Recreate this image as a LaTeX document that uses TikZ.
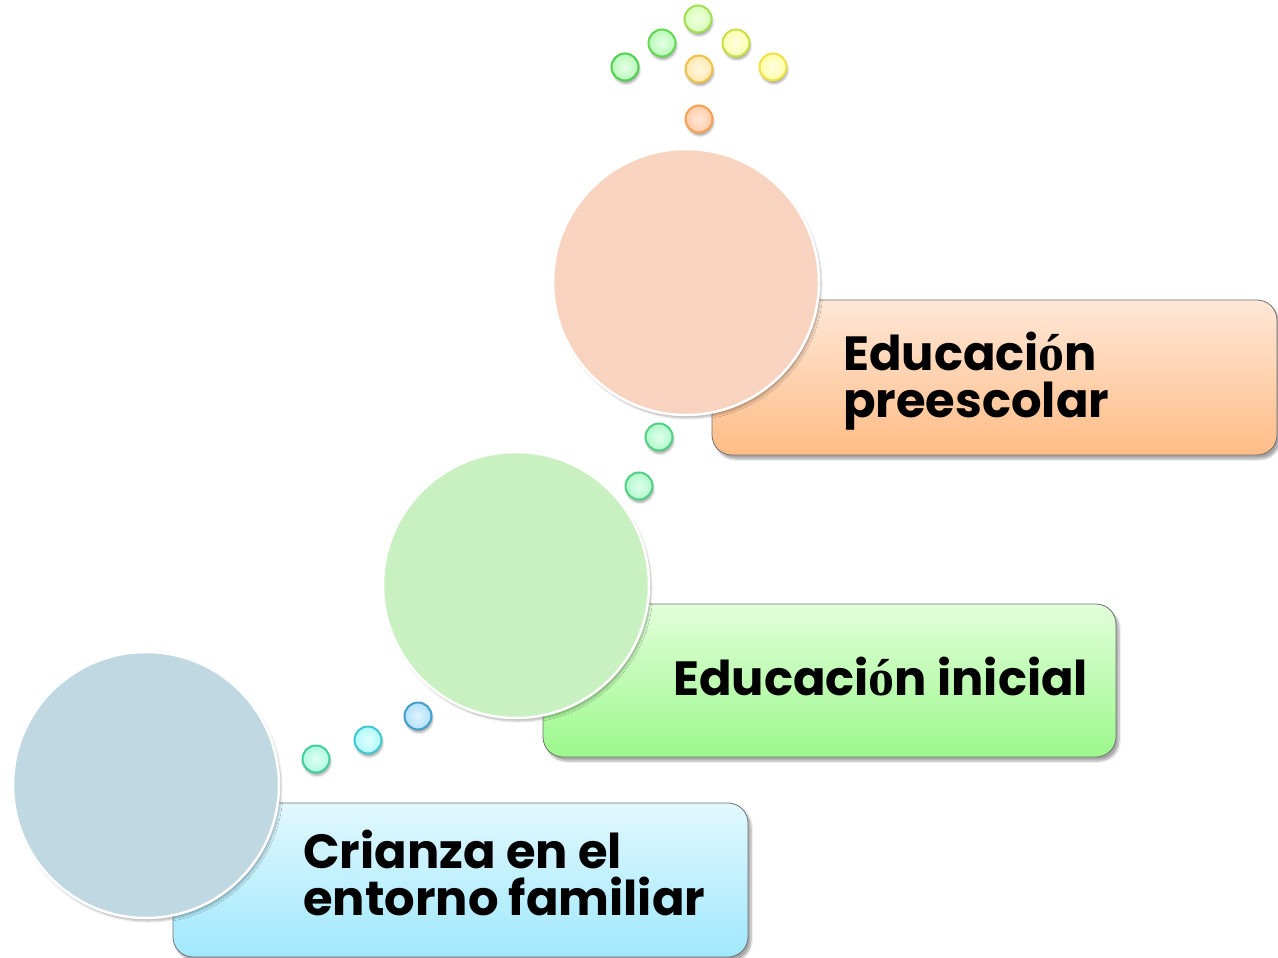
\documentclass[tikz,border=0pt]{standalone}
\usepackage{fontspec}
\setmainfont{Poppins}
\newfontfamily\serifb{Liberation Serif}[UprightFont={* Bold}]
\usetikzlibrary{shadows,shadows.blur}
\definecolor{boxline}{HTML}{707070}
\definecolor{orT}{HTML}{FFE8D8}\definecolor{orB}{HTML}{FFBC86}
\definecolor{grT}{HTML}{E2FFDA}\definecolor{grB}{HTML}{9CF88C}
\definecolor{blT}{HTML}{E2F8FF}\definecolor{blB}{HTML}{A0E8FC}
\definecolor{cOr}{HTML}{F8D4C0}\definecolor{cGr}{HTML}{C8F0C0}\definecolor{cBl}{HTML}{C0D8E2}
\definecolor{d1e}{HTML}{50D050}\definecolor{d1i}{HTML}{E6FFE6}\definecolor{d1o}{HTML}{B8F8B8}
\definecolor{d2e}{HTML}{60D850}
\definecolor{d3e}{HTML}{A0E050}\definecolor{d3i}{HTML}{F0FFE0}\definecolor{d3o}{HTML}{D8FFB8}
\definecolor{d4e}{HTML}{C8E040}\definecolor{d4i}{HTML}{FFFFE0}\definecolor{d4o}{HTML}{F8FFB0}
\definecolor{d5e}{HTML}{F0E040}\definecolor{d5o}{HTML}{FFFFA8}
\definecolor{d6e}{HTML}{F0C048}\definecolor{d6i}{HTML}{FFF8E0}\definecolor{d6o}{HTML}{FFE8B0}
\definecolor{d7e}{HTML}{F8A050}\definecolor{d7i}{HTML}{FFE8D8}\definecolor{d7o}{HTML}{FFCCA8}
\definecolor{d8e}{HTML}{50D080}\definecolor{d8i}{HTML}{E0FFEC}\definecolor{d8o}{HTML}{B0F8CC}
\definecolor{d10e}{HTML}{40D0A0}\definecolor{d10i}{HTML}{E0FFF4}\definecolor{d10o}{HTML}{B0F8E0}
\definecolor{d11e}{HTML}{40C8D0}\definecolor{d11i}{HTML}{E0FFFF}\definecolor{d11o}{HTML}{B0F8FC}
\definecolor{d12e}{HTML}{40A0C8}\definecolor{d12i}{HTML}{E0F4FF}\definecolor{d12o}{HTML}{B0E0FC}
\tikzset{
  x=1pt,y=-1pt,
  stage/.style={draw=boxline,line width=0.8pt,rounded corners=20pt,
    blur shadow={shadow xshift=3pt,shadow yshift=-4pt,shadow blur steps=6,shadow opacity=35}},
  bigdisc/.style={circle,draw=white,line width=2.5pt,minimum size=266pt,inner sep=0pt,
    blur shadow={shadow xshift=2pt,shadow yshift=-3pt,shadow blur steps=6,shadow opacity=30}},
  dot/.style={circle,line width=2pt,minimum size=27pt,inner sep=0pt,
    blur shadow={shadow xshift=1pt,shadow yshift=-3pt,shadow blur steps=4,shadow opacity=35}},
  label/.style={anchor=base west,align=left,inner sep=0pt,
    font=\fontsize{48}{47}\selectfont\bfseries},
}
\newcommand{\oac}{{\serifb\fontsize{52}{47}\selectfont ó}}
\begin{document}
\begin{tikzpicture}
\useasboundingbox (0,0) rectangle (1278,958);
% boxes
\path[stage,top color=orT,bottom color=orB] (712,300) rectangle (1277,455);
\path[stage,top color=grT,bottom color=grB] (543,604) rectangle (1116,757);
\path[stage,top color=blT,bottom color=blB] (173,803) rectangle (748,957);
% big circles
\node[bigdisc,fill=cOr] (c3) at (686,282) {};
\node[bigdisc,fill=cGr] (c2) at (516,585) {};
\node[bigdisc,fill=cBl] (c1) at (146,785) {};
% labels (base anchor = baseline of the last line)
\node[label] (t3) at (843,417) {Educaci\oac n\\preescolar};
\node[label] (t2) at (673,695) {Educaci\oac n inicial};
\node[label] (t1) at (303,915) {Crianza en el\\entorno familiar};
% small dots
\node[dot,draw=d1e,inner color=d1i,outer color=d1o] (d1) at (625,67) {};
\node[dot,draw=d2e,inner color=d1i,outer color=d1o] (d2) at (662,43) {};
\node[dot,draw=d3e,inner color=d3i,outer color=d3o] (d3) at (698,19) {};
\node[dot,draw=d4e,inner color=d4i,outer color=d4o] (d4) at (736,43) {};
\node[dot,draw=d5e,inner color=d4i,outer color=d5o] (d5) at (773,67) {};
\node[dot,draw=d6e,inner color=d6i,outer color=d6o] (d6) at (699,69) {};
\node[dot,draw=d7e,inner color=d7i,outer color=d7o] (d7) at (699,119) {};
\node[dot,draw=d8e,inner color=d8i,outer color=d8o] (d8) at (659,437) {};
\node[dot,draw=d8e,inner color=d8i,outer color=d8o] (d9) at (639,486) {};
\node[dot,draw=d10e,inner color=d10i,outer color=d10o] (d10) at (316,759) {};
\node[dot,draw=d11e,inner color=d11i,outer color=d11o] (d11) at (368,740) {};
\node[dot,draw=d12e,inner color=d12i,outer color=d12o] (d12) at (418,716) {};
\end{tikzpicture}
\end{document}
